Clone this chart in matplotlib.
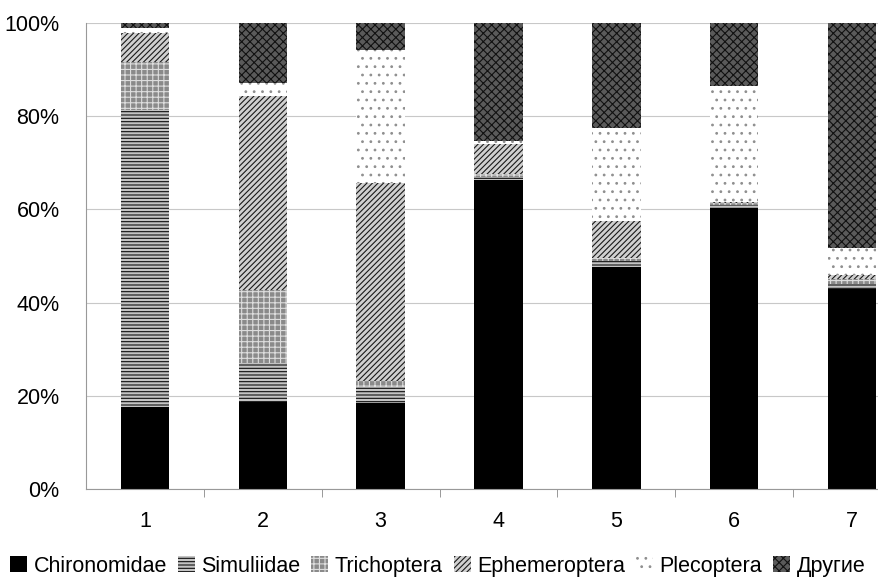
import numpy as np
import matplotlib
matplotlib.use('Agg')
import matplotlib.pyplot as plt

plt.rcParams['font.family'] = ['Liberation Sans', 'DejaVu Sans']
plt.rcParams['hatch.linewidth'] = 0.8

sites = ['1', '2', '3', '4', '5', '6', '7']
groups = ['Chironomidae', 'Simuliidae', 'Trichoptera', 'Ephemeroptera', 'Plecoptera', 'Другие']

# shares in percent, per site
chironomidae = [17.6, 18.7, 18.4, 66.3, 47.6, 60.3, 42.9]
simuliidae = [63.7, 8.3, 3.5, 0.6, 1.4, 0.6, 1.0]
trichoptera = [10.3, 15.7, 1.3, 0.6, 0.6, 0.5, 1.1]
ephemeroptera = [6.3, 41.6, 42.5, 6.5, 7.9, 0.2, 0.9]
plecoptera = [1.0, 2.8, 28.5, 0.7, 20.0, 24.9, 5.8]
other = [1.1, 12.9, 5.8, 25.3, 22.5, 13.5, 48.3]

styles = [
    dict(color='black', edgecolor='black', hatch=None),
    dict(color='#c4c4c4', edgecolor='#111111', hatch='-----'),
    dict(color='#8a8a8a', edgecolor='#dddddd', hatch='+++'),
    dict(color='#d0d0d0', edgecolor='#1a1a1a', hatch='//////'),
    dict(color='white', edgecolor='#8f8f8f', hatch='..'),
    dict(color='#5a5a5a', edgecolor='#111111', hatch='xxxx'),
]

fig = plt.figure(figsize=(8.79, 5.80), dpi=100)
ax = fig.add_axes([0.0978, 0.1569, 0.9386, 0.8034])

x = np.arange(1, len(sites) + 1)
bottom = np.zeros(len(sites))
for name, vals, st in zip(groups, [chironomidae, simuliidae, trichoptera, ephemeroptera, plecoptera, other], styles):
    ax.bar(x, vals, 0.41, bottom=bottom, label=name, linewidth=0, **st)
    bottom += np.array(vals)

ax.set_xlim(0.5, 7.5)
ax.set_ylim(0, 100)
ax.set_yticks([0, 20, 40, 60, 80, 100])
ax.set_yticklabels(['0%', '20%', '40%', '60%', '80%', '100%'], fontsize=15.5)
ax.set_xticks(x)
ax.set_xticklabels(sites, fontsize=15.5)
ax.set_xticks(np.arange(1.5, 7.5, 1), minor=True)
ax.tick_params(axis='x', which='major', length=0, pad=16)
ax.tick_params(axis='x', which='minor', length=6, color='#888888', direction='out')
ax.tick_params(axis='y', length=0, pad=19)

ax.yaxis.grid(True, color='#c8c8c8', linewidth=0.8)
ax.set_axisbelow(True)
for s in ['top', 'right']:
    ax.spines[s].set_visible(False)
for s in ['left', 'bottom']:
    ax.spines[s].set_color('#999999')
    ax.spines[s].set_linewidth(0.8)

fig.legend(loc='lower left', bbox_to_anchor=(-0.006, -0.02), ncol=6, frameon=False,
           fontsize=15.5, handlelength=0.8, handleheight=0.8, handletextpad=0.3,
           columnspacing=0.5, borderaxespad=0.3)

fig.savefig('out.png', dpi=100)
